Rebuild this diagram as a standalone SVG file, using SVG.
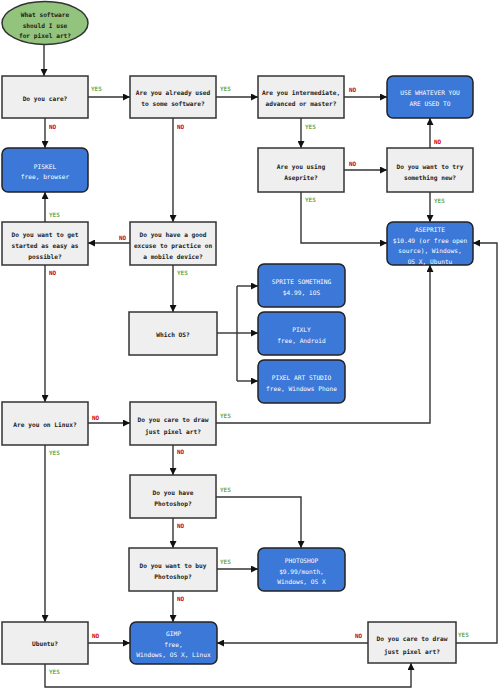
<svg xmlns="http://www.w3.org/2000/svg" width="499" height="688" viewBox="0 0 499 688">
<defs>
<marker id="ar" viewBox="0 0 10 10" refX="10" refY="5" markerWidth="7" markerHeight="7" markerUnits="userSpaceOnUse" orient="auto"><path d="M0,0 L10,5 L0,10 z" fill="#111"/></marker>
<style>
.q{fill:#efefef;stroke:#333;stroke-width:1.5}
.a{fill:#3c78d8;stroke:#222;stroke-width:1.5}
.t{font-family:"DejaVu Sans Mono","Liberation Mono",monospace;font-size:6.2px;font-weight:bold;text-anchor:middle;dominant-baseline:central;fill:#222}
.w{fill:#fff;font-weight:normal}
.c{fill:none;stroke:#333;stroke-width:1.4;marker-end:url(#ar)}
.n{fill:none;stroke:#333;stroke-width:1.4}
.y{font-family:"DejaVu Sans Mono","Liberation Mono",monospace;font-size:6px;font-weight:bold;fill:#6aa84f}
.o{font-family:"DejaVu Sans Mono","Liberation Mono",monospace;font-size:6px;font-weight:bold;fill:#cc0000}
</style>
</defs>
<rect width="499" height="688" fill="#fff"/>
<g id="connectors">
<path class="c" d="M44,45 V76"/>
<path class="c" d="M88,97 H130"/>
<path class="c" d="M216,97 H258"/>
<path class="c" d="M344,97 H387"/>
<path class="c" d="M301,118 V148"/>
<path class="c" d="M344,170 H387"/>
<path class="c" d="M430,148 V118"/>
<path class="c" d="M430,192 V222"/>
<path class="c" d="M301,192 V243 H387"/>
<path class="c" d="M45,118 V148"/>
<path class="c" d="M173,118 V222"/>
<path class="c" d="M130,243 H88"/>
<path class="c" d="M45,222 V192"/>
<path class="c" d="M45,265 V402"/>
<path class="c" d="M173,265 V312"/>
<path class="n" d="M217,333 H237"/>
<path class="n" d="M237,286 V381"/>
<path class="c" d="M237,286 H258"/>
<path class="c" d="M237,333 H258"/>
<path class="c" d="M237,381 H258"/>
<path class="c" d="M88,423 H130"/>
<path class="c" d="M216,423 H430 V265"/>
<path class="c" d="M173,445 V475"/>
<path class="c" d="M216,497 H301 V548"/>
<path class="c" d="M173,518 V548"/>
<path class="c" d="M217,569 H258"/>
<path class="c" d="M173,591 V622"/>
<path class="c" d="M45,445 V622"/>
<path class="c" d="M88,643 H130"/>
<path class="c" d="M45,664 V687 H411 V663"/>
<path class="c" d="M368,643 H217"/>
<path class="c" d="M456,643 H497 V243 H473"/>
<text class="y" x="91" y="91">YES</text>
<text class="y" x="220" y="91">YES</text>
<text class="o" x="349" y="92">NO</text>
<text class="y" x="305" y="129">YES</text>
<text class="o" x="349" y="166">NO</text>
<text class="o" x="434" y="144">NO</text>
<text class="y" x="434" y="203">YES</text>
<text class="y" x="305" y="202">YES</text>
<text class="o" x="49" y="129">NO</text>
<text class="o" x="177" y="129">NO</text>
<text class="o" x="119" y="240">NO</text>
<text class="y" x="49" y="217">YES</text>
<text class="o" x="49" y="275">NO</text>
<text class="y" x="177" y="275">YES</text>
<text class="o" x="92" y="420">NO</text>
<text class="y" x="220" y="418">YES</text>
<text class="o" x="177" y="454">NO</text>
<text class="y" x="220" y="492">YES</text>
<text class="o" x="177" y="528">NO</text>
<text class="y" x="220" y="564">YES</text>
<text class="o" x="177" y="601">NO</text>
<text class="y" x="49" y="455">YES</text>
<text class="o" x="92" y="638">NO</text>
<text class="y" x="49" y="674">YES</text>
<text class="o" x="355" y="638">NO</text>
<text class="y" x="458" y="637">YES</text>
</g>
<g id="start"><ellipse cx="45" cy="23" rx="43" ry="21.5" fill="#93c47d" stroke="#333" stroke-width="1.5"/><text class="t"><tspan x="45" y="14">What software</tspan><tspan x="45" y="24.5">should I use</tspan><tspan x="45" y="35">for pixel art?</tspan></text></g>
<g id="care"><rect class="q" x="2" y="76" width="86" height="42"/><text class="t" x="45" y="98">Do you care?</text></g>
<g id="used"><rect class="q" x="130" y="76" width="86" height="42"/><text class="t"><tspan x="173" y="92">Are you already used</tspan><tspan x="173" y="103">to some software?</tspan></text></g>
<g id="level"><rect class="q" x="258" y="76" width="86" height="42"/><text class="t"><tspan x="301" y="92">Are you intermediate,</tspan><tspan x="301" y="103">advanced or master?</tspan></text></g>
<g id="whatever"><rect class="a" x="387" y="76" width="86" height="42" rx="6"/><text class="t w"><tspan x="430" y="92">USE WHATEVER YOU</tspan><tspan x="430" y="103">ARE USED TO</tspan></text></g>
<g id="piskel"><rect class="a" x="2" y="148" width="86" height="44" rx="6"/><text class="t w"><tspan x="45" y="165.5">PISKEL</tspan><tspan x="45" y="176">free, browser</tspan></text></g>
<g id="usingase"><rect class="q" x="258" y="148" width="86" height="44"/><text class="t"><tspan x="301" y="166">Are you using</tspan><tspan x="301" y="177">Aseprite?</tspan></text></g>
<g id="trynew"><rect class="q" x="387" y="148" width="86" height="44"/><text class="t"><tspan x="430" y="166">Do you want to try</tspan><tspan x="430" y="177">something new?</tspan></text></g>
<g id="easy"><rect class="q" x="2" y="222" width="86" height="43"/><text class="t"><tspan x="45" y="234">Do you want to get</tspan><tspan x="45" y="244.5">started as easy as</tspan><tspan x="45" y="255.5">possible?</tspan></text></g>
<g id="excuse"><rect class="q" x="130" y="222" width="86" height="43"/><text class="t"><tspan x="173" y="234">Do you have a good</tspan><tspan x="173" y="244.5">excuse to practice on</tspan><tspan x="173" y="255.5">a mobile device?</tspan></text></g>
<g id="aseprite"><rect class="a" x="387" y="222" width="86" height="43" rx="6"/><text class="t w"><tspan x="430" y="229">ASEPRITE</tspan><tspan x="430" y="239.5">$10.49 (or free open</tspan><tspan x="430" y="250">source), Windows,</tspan><tspan x="430" y="260.5">OS X, Ubuntu</tspan></text></g>
<g id="whichos"><rect class="q" x="129" y="312" width="88" height="43"/><text class="t" x="173" y="334">Which OS?</text></g>
<g id="sprite"><rect class="a" x="258" y="264" width="87" height="43" rx="6"/><text class="t w"><tspan x="301.5" y="281">SPRITE SOMETHING</tspan><tspan x="301.5" y="292">$4.99, iOS</tspan></text></g>
<g id="pixly"><rect class="a" x="258" y="312" width="87" height="43" rx="6"/><text class="t w"><tspan x="301.5" y="329">PIXLY</tspan><tspan x="301.5" y="340">free, Android</tspan></text></g>
<g id="pas"><rect class="a" x="258" y="360" width="87" height="43" rx="6"/><text class="t w"><tspan x="301.5" y="377">PIXEL ART STUDIO</tspan><tspan x="301.5" y="388">free, Windows Phone</tspan></text></g>
<g id="linux"><rect class="q" x="2" y="402" width="86" height="43"/><text class="t" x="45" y="424">Are you on Linux?</text></g>
<g id="draw1"><rect class="q" x="130" y="402" width="86" height="43"/><text class="t"><tspan x="173" y="419">Do you care to draw</tspan><tspan x="173" y="430.5">just pixel art?</tspan></text></g>
<g id="havepsd"><rect class="q" x="130" y="475" width="86" height="43"/><text class="t"><tspan x="173" y="492">Do you have</tspan><tspan x="173" y="503">Photoshop?</tspan></text></g>
<g id="buypsd"><rect class="q" x="129" y="548" width="88" height="43"/><text class="t"><tspan x="173" y="565">Do you want to buy</tspan><tspan x="173" y="576">Photoshop?</tspan></text></g>
<g id="photoshop"><rect class="a" x="258" y="548" width="87" height="43" rx="6"/><text class="t w"><tspan x="301.5" y="560">PHOTOSHOP</tspan><tspan x="301.5" y="570.5">$9.99/month,</tspan><tspan x="301.5" y="581">Windows, OS X</tspan></text></g>
<g id="ubuntu"><rect class="q" x="2" y="622" width="86" height="42"/><text class="t" x="45" y="643">Ubuntu?</text></g>
<g id="gimp"><rect class="a" x="130" y="622" width="87" height="42" rx="6"/><text class="t w"><tspan x="173.5" y="633">GIMP</tspan><tspan x="173.5" y="643.5">free,</tspan><tspan x="173.5" y="654">Windows, OS X, Linux</tspan></text></g>
<g id="draw2"><rect class="q" x="368" y="622" width="88" height="41"/><text class="t"><tspan x="412" y="638">Do you care to draw</tspan><tspan x="412" y="650.5">just pixel art?</tspan></text></g>
</svg>
